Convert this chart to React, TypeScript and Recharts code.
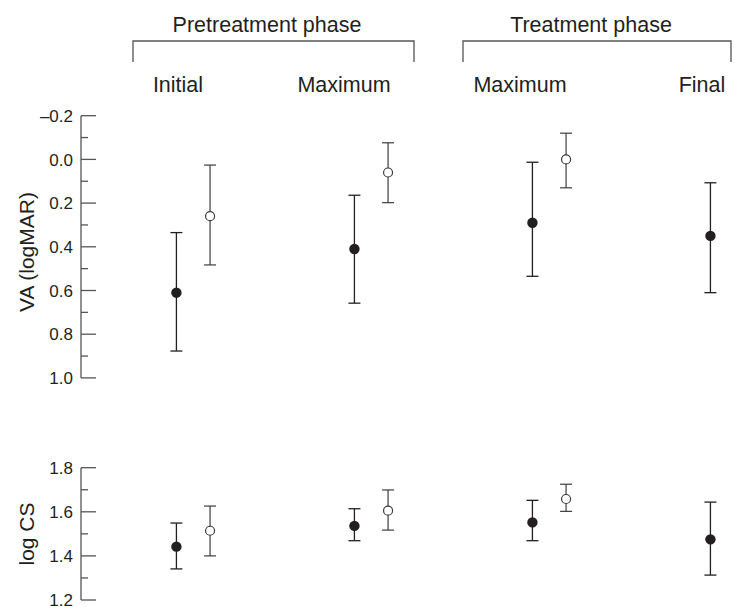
import React from 'react';
import { ScatterChart, Scatter, XAxis, YAxis, ErrorBar } from 'recharts';

// ---- Data ----
const groups = ['Initial', 'Maximum', 'Maximum', 'Final'];
const phases = ['Pretreatment phase', 'Treatment phase'];

const vaFilledMean = [0.61, 0.41, 0.29, 0.35];
const vaFilledLow = [0.335, 0.164, 0.013, 0.107];
const vaFilledHigh = [0.877, 0.658, 0.535, 0.61];
const vaOpenMean = [0.26, 0.06, 0.0];
const vaOpenLow = [0.026, -0.076, -0.12];
const vaOpenHigh = [0.483, 0.198, 0.13];

const csFilledMean = [1.442, 1.536, 1.552, 1.475];
const csFilledLow = [1.341, 1.469, 1.469, 1.313];
const csFilledHigh = [1.549, 1.614, 1.652, 1.644];
const csOpenMean = [1.514, 1.605, 1.658];
const csOpenLow = [1.4, 1.517, 1.602];
const csOpenHigh = [1.626, 1.699, 1.725];

const vaMajorTicks = [-0.2, 0, 0.2, 0.4, 0.6, 0.8, 1.0];
const vaTickLabels = ['–0.2', '0.0', '0.2', '0.4', '0.6', '0.8', '1.0'];
const vaMinorTicks = [-0.1, 0.1, 0.3, 0.5, 0.7, 0.9];
const csMajorTicks = [1.2, 1.4, 1.6, 1.8];
const csTickLabels = ['1.2', '1.4', '1.6', '1.8'];
const csMinorTicks = [1.3, 1.5, 1.7];

const vaTitle = 'VA (logMAR)';
const csTitle = 'log CS';

// ---- Layout / style ----
const W = 735;
const H = 607;
const FONT = '"Liberation Sans", Arial, Helvetica, sans-serif';
const AXIS = '#555';
const INK = '#231f20';
const OPEN_INK = '#3c3c3c';
const X_DOMAIN: [number, number] = [-0.536, 3.138];
const OPEN_OFFSET = 0.189;
const HEAD_SIZE = 21.5;

type Pt = { x: number; y: number; err: [number, number] };

const build = (mean: number[], low: number[], high: number[], offset: number): Pt[] =>
  mean.map((m, i) => ({ x: i + offset, y: m, err: [m - low[i], high[i] - m] }));

const vaFilled = build(vaFilledMean, vaFilledLow, vaFilledHigh, 0);
const vaOpen = build(vaOpenMean, vaOpenLow, vaOpenHigh, OPEN_OFFSET);
const csFilled = build(csFilledMean, csFilledLow, csFilledHigh, 0);
const csOpen = build(csOpenMean, csOpenLow, csOpenHigh, OPEN_OFFSET);

const allTicks = (a: number[], b: number[]) => [...a, ...b].sort((p, q) => p - q);

const makeTick = (majors: number[], labels: string[]) => (props: any) => {
  const { x, y, payload } = props;
  const idx = majors.findIndex((m) => Math.abs(m - payload.value) < 1e-6);
  const major = idx >= 0;
  return (
    <g>
      <line x1={x} x2={x + (major ? 15 : 7)} y1={y} y2={y} stroke={AXIS} strokeWidth={1.3} />
      {major && (
        <text x={x - 8} y={y} dy="0.36em" textAnchor="end" fontSize={17} fill={INK} fontFamily={FONT}>
          {labels[idx]}
        </text>
      )}
    </g>
  );
};

const FilledDot = (p: any) => <circle cx={p.cx} cy={p.cy} r={5.2} fill={INK} />;
const OpenDot = (p: any) => (
  <circle cx={p.cx} cy={p.cy} r={4.5} fill="#fff" stroke={OPEN_INK} strokeWidth={1.2} />
);

const Panel = ({
  top,
  bottom,
  domain,
  reversed,
  majors,
  minors,
  labels,
  filled,
  open,
}: {
  top: number;
  bottom: number;
  domain: [number, number];
  reversed: boolean;
  majors: number[];
  minors: number[];
  labels: string[];
  filled: Pt[];
  open: Pt[];
}) => (
  <div style={{ position: 'absolute', left: 0, top: 0 }}>
    <ScatterChart width={W} height={H} margin={{ top, bottom, left: 0, right: 0 }}>
      <XAxis type="number" dataKey="x" domain={X_DOMAIN} allowDataOverflow hide />
      <YAxis
        type="number"
        dataKey="y"
        domain={domain}
        reversed={reversed}
        allowDataOverflow
        width={81}
        ticks={allTicks(majors, minors)}
        interval={0}
        tickSize={0}
        tickMargin={0}
        tickLine={false}
        axisLine={{ stroke: AXIS, strokeWidth: 1.3 }}
        tick={makeTick(majors, labels)}
      />
      <Scatter data={filled} shape={FilledDot} isAnimationActive={false}>
        <ErrorBar dataKey="err" direction="y" width={6} stroke={INK} strokeWidth={1.3} />
      </Scatter>
      <Scatter data={open} shape={OpenDot} isAnimationActive={false}>
        <ErrorBar dataKey="err" direction="y" width={6} stroke={OPEN_INK} strokeWidth={1.2} />
      </Scatter>
    </ScatterChart>
  </div>
);

export default function App() {
  const headerX = [267, 591];
  const bracket = [
    [133, 414],
    [463, 731],
  ];
  const groupX = [178, 344, 520, 702];
  return (
    <div style={{ position: 'absolute', left: 0, top: 0, width: W, height: H, background: '#fff', overflow: 'hidden' }}>
      <Panel
        top={115.7}
        bottom={H - 377.9}
        domain={[-0.2, 1.0]}
        reversed
        majors={vaMajorTicks}
        minors={vaMinorTicks}
        labels={vaTickLabels}
        filled={vaFilled}
        open={vaOpen}
      />
      <Panel
        top={467.7}
        bottom={H - 600}
        domain={[1.2, 1.8]}
        reversed={false}
        majors={csMajorTicks}
        minors={csMinorTicks}
        labels={csTickLabels}
        filled={csFilled}
        open={csOpen}
      />
      <svg width={W} height={H} style={{ position: 'absolute', left: 0, top: 0, pointerEvents: 'none' }}>
        {phases.map((p, i) => (
          <g key={p}>
            <text x={headerX[i]} y={32} textAnchor="middle" fontSize={HEAD_SIZE} fill={INK} fontFamily={FONT}>
              {p}
            </text>
            <path
              d={`M${bracket[i][0]},62 V41 H${bracket[i][1]} V62`}
              fill="none"
              stroke={AXIS}
              strokeWidth={1.3}
            />
          </g>
        ))}
        {groups.map((g, i) => (
          <text key={i} x={groupX[i]} y={92} textAnchor="middle" fontSize={HEAD_SIZE} fill={INK} fontFamily={FONT}>
            {g}
          </text>
        ))}
        <text
          x={34}
          y={252}
          transform="rotate(-90 34 252)"
          textAnchor="middle"
          fontSize={21}
          fill={INK}
          fontFamily={FONT}
        >
          {vaTitle}
        </text>
        <text
          x={34}
          y={534}
          transform="rotate(-90 34 534)"
          textAnchor="middle"
          fontSize={21}
          fill={INK}
          fontFamily={FONT}
        >
          {csTitle}
        </text>
      </svg>
    </div>
  );
}
